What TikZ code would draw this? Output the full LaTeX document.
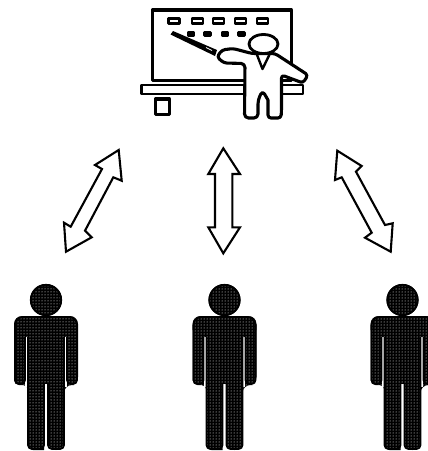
\documentclass[tikz,border=0pt]{standalone}
\usepackage{tikz}
\usetikzlibrary{patterns.meta}
\tikzset{
  ink/.style={draw=black,line width=3.1pt,line join=round},
  hollow/.style={ink,fill=white},
  twoway/.style={draw=black,line width=2.1pt,line join=miter,fill=white},
  dither/.style={fill=black,postaction={pattern={Dots[radius=.5pt,distance=3pt]},pattern color=white}}
}
\begin{document}
\begin{tikzpicture}[x=1pt,y=-1pt]
\useasboundingbox (0,0) rectangle (428,451);
\clip (0,0) rectangle (428,451);
\draw[hollow] (152.5,10) rectangle (291.5,80.5);
\foreach \cx in {174,197.5,218.5,240.5,262.5}{\draw[ink,line width=2.8pt,fill=white] (\cx-5.5,18.5) rectangle (\cx+5.5,23.5);}
\foreach \cx in {191,207.5,225,241.5}{\draw[ink,line width=2.8pt,fill=white] (\cx-3,32.5) rectangle (\cx+3,35.5);}
\draw[hollow,line width=2.7pt] (141.5,85) rectangle (303,94);
\draw[hollow] (155.5,99) rectangle (169.5,114.5);
\fill[black] (170.5,34.5)--(173,31)--(217,50)--(215,56)--cycle;
\draw[white,line width=.8pt] (206,47.5)--(212,50.5);
\draw[hollow,rounded corners=3pt] (245,63.5)--(224,63)--(217,57)--(222,50)--(233,48.5)--(252,53.5)--(275,53.5)--(308,75)--(303,83)--(281.5,75)--(281.5,110)--(281,118)--(268,118)--(268,106) [sharp corners]--(268,100) [rounded corners=4pt]--(262.5,90.5)--(258,100)--(258,118)--(244.5,118)--cycle;
\draw[hollow,line width=2.8pt] (263.5,44) ellipse (14.5pt and 9.5pt);
\draw[ink,line width=2.4pt] (256.5,53.5)--(262.5,69)--(270,53.5);
\draw[twoway] (118.7,150)--(95,165)--(102,169)--(70.7,226.7)--(64,222.7)--(66,251.7)--(91.7,237.3)--(85,230.7)--(113.3,177.3)--(121.7,180.7)--cycle;
\draw[twoway] (223.3,148.3)--(208.3,174)--(215,174)--(215,227.3)--(208.3,227.3)--(223.3,253.3)--(240,227.3)--(232.3,227.3)--(232.3,174)--(240,174)--cycle;
\draw[twoway] (337.3,150.7)--(361.7,166)--(356,171.7)--(385,225)--(392.7,223.3)--(390.7,251.7)--(365,237.7)--(371.7,232.7)--(341.7,177.3)--(335,180)--cycle;
\foreach \px in {46,224.5,402.5}{
\begin{scope}[shift={(\px,0)}]
\path[dither,rounded corners=8pt] (-32,385)--(-32,316)--(32,316)--(32,385)--(20,385)--(18,385)--(18,450)--(2,450) [sharp corners]--(2,384)--(-2,384)--(-2,450) [rounded corners=5pt]--(-18,450)--(-18,385)--(-20,385)--cycle;
\path[dither] (0,300) circle (16pt);
\draw[draw=white,line width=2.4pt] (-19.5,337)--(-19.5,387) (19.5,337)--(19.5,387) (0,384)--(0,452);
\draw[draw=black,line width=1.8pt,rounded corners=4pt] (-31,380)--(-31,325) (31,325)--(31,380) (-31,380)--(-31,384)--(-21,384)--(-21,337) (31,380)--(31,384)--(21,384)--(21,337) (-18,337)--(-18,449)--(-2,449)--(-2,384) (18,337)--(18,449)--(2,449)--(2,384);
\draw[draw=black,line width=1.8pt,rounded corners=8pt] (-31,330)--(-31,317)--(31,317)--(31,330);
\draw[draw=black,line width=1.8pt] (0,300) circle (15.2pt);
\end{scope}}
\end{tikzpicture}
\end{document}
